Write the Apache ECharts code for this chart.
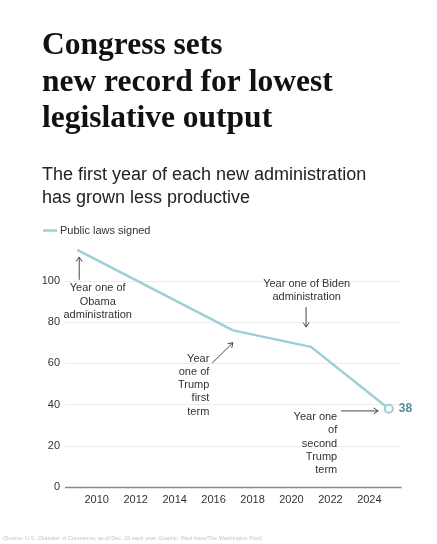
<!DOCTYPE html>
<html>
<head>
<meta charset="utf-8">
<script src="https://cdn.jsdelivr.net/npm/echarts@6/dist/echarts.min.js"></script>
<style>
html,body{margin:0;padding:0;background:#fff;}
#chart{width:437px;height:544px;}
</style>
</head>
<body>
<div id="chart"></div>
<script>
// ---- data ----
const years = [2009, 2017, 2021, 2025];
const lawsSigned = [115, 76, 68, 38];
const seriesName = 'Public laws signed';
const xTickYears = [2010, 2012, 2014, 2016, 2018, 2020, 2022, 2024];
const yTickValues = [0, 20, 40, 60, 80, 100];

const titleText = 'Congress sets\nnew record for lowest\nlegislative output';
const subtitleText = 'The first year of each new administration\nhas grown less productive';
const sourceText = '(Source: U.S. Chamber of Commerce, as of Dec. 19 each year. Graphic: Paul Kane/The Washington Post)';

// annotations (anchored in data coordinates)
const noteTexts = [
  ['Year one of', 'Obama', 'administration'],
  ['Year one of Biden', 'administration'],
  ['Year', 'one of', 'Trump', 'first', 'term'],
  ['Year one', 'of', 'second', 'Trump', 'term']
];
const noteAnchors = [[2010.05, 89.9], [2020.78, 95.3], [2015.78, 49.5], [2022.35, 21.2]];
const noteAligns = ['center', 'center', 'right', 'right'];
const arrowFrom = [[2009.1, 100.5], [2020.75, 87.3], [2015.93, 60.2], [2022.55, 37.0]];
const arrowTo   = [[2009.1, 111.5], [2020.75, 77.6], [2016.99, 70.0], [2024.45, 37.0]];

const LINE = '#9dcfd6';
const TEXT = '#333';
const SANS = '"Liberation Sans", Arial, sans-serif';

const chart = echarts.init(document.getElementById('chart'));

const seriesData = years.map((y, i) => {
  const last = i === years.length - 1;
  return last ? {
    value: [y, lawsSigned[i]],
    symbol: 'circle',
    symbolSize: 8,
    itemStyle: { color: '#fff', borderColor: LINE, borderWidth: 2 },
    label: {
      show: true, position: 'right', distance: 5,
      formatter: p => String(p.value[1]),
      color: '#4f8e9a', fontWeight: 'bold', fontSize: 12, fontFamily: SANS
    }
  } : { value: [y, lawsSigned[i]], symbol: 'none' };
});

chart.setOption({
  animation: false,
  title: [
    {
      text: titleText, left: 42, top: 28, padding: 0,
      textStyle: { fontFamily: '"Liberation Serif", serif', fontWeight: 'bold', fontSize: 31.5, lineHeight: 36.5, color: '#111' }
    },
    {
      text: subtitleText, left: 42, top: 163, padding: 0,
      textStyle: { fontFamily: SANS, fontWeight: 'normal', fontSize: 18, lineHeight: 23.5, color: '#222' }
    },
    {
      text: sourceText, left: 3, top: 535.5, padding: 0,
      textStyle: { fontFamily: SANS, fontWeight: 'normal', fontSize: 5.5, color: '#c4c4c4' }
    }
  ],
  legend: {
    left: 43, top: 225, padding: 0,
    icon: 'rect', itemWidth: 14, itemHeight: 2.5, itemGap: 4,
    textStyle: { fontFamily: SANS, fontSize: 11, color: TEXT, padding: [0, 0, 0, -2] },
    data: [{ name: seriesName, itemStyle: { color: LINE } }]
  },
  grid: { left: 65, right: 35.3, top: 280.8, bottom: 56.7, containLabel: false },
  xAxis: {
    type: 'value', min: 2008.37, max: 2025.66,
    splitLine: { show: false },
    axisLine: { show: false },
    axisTick: { show: false, customValues: xTickYears },
    axisLabel: {
      customValues: xTickYears, formatter: v => String(v),
      fontFamily: SANS, fontSize: 11, color: TEXT, margin: 7
    }
  },
  yAxis: {
    type: 'value', min: 0, max: 100, interval: 20,
    axisLine: { show: false },
    axisTick: { show: false },
    axisLabel: { fontFamily: SANS, fontSize: 11, color: TEXT, margin: 5 },
    splitLine: { lineStyle: { color: '#ececec', width: 1 } }
  },
  series: [
    {
      name: seriesName, type: 'line', clip: false,
      showSymbol: true, symbol: 'none',
      lineStyle: { color: LINE, width: 2.5 },
      itemStyle: { color: LINE },
      data: seriesData,
      markLine: {
        silent: true, symbol: 'none', label: { show: false },
        lineStyle: { color: '#8a8a8a', width: 1.3, type: 'solid' },
        data: [[{ coord: [2008.37, 0] }, { coord: [2025.66, 0] }]]
      }
    }
  ]
});

// annotation graphics positioned from data coordinates
function px(p) { return chart.convertToPixel({ gridIndex: 0 }, p); }
const graphics = [];
noteTexts.forEach((lines, i) => {
  const p = px(noteAnchors[i]);
  graphics.push({
    type: 'text', x: p[0], y: p[1], z: 10,
    style: {
      text: lines.join('\n'), align: noteAligns[i], verticalAlign: 'middle',
      font: '11px ' + SANS, lineHeight: 13.3, fill: TEXT
    }
  });
});
arrowFrom.forEach((a, i) => {
  const s = px(a), e = px(arrowTo[i]);
  const dx = e[0] - s[0], dy = e[1] - s[1];
  const len = Math.hypot(dx, dy), ux = dx / len, uy = dy / len;
  const hl = 4.5, hw = 3;
  const bx = e[0] - ux * hl, by = e[1] - uy * hl;
  graphics.push({
    type: 'line', z: 10,
    shape: { x1: s[0], y1: s[1], x2: e[0], y2: e[1] },
    style: { stroke: TEXT, lineWidth: 0.9 }
  });
  graphics.push({
    type: 'polyline', z: 10,
    shape: { points: [[bx - uy * hw, by + ux * hw], [e[0], e[1]], [bx + uy * hw, by - ux * hw]] },
    style: { stroke: TEXT, lineWidth: 0.9, fill: null }
  });
});
chart.setOption({ graphic: graphics });
</script>
</body>
</html>
